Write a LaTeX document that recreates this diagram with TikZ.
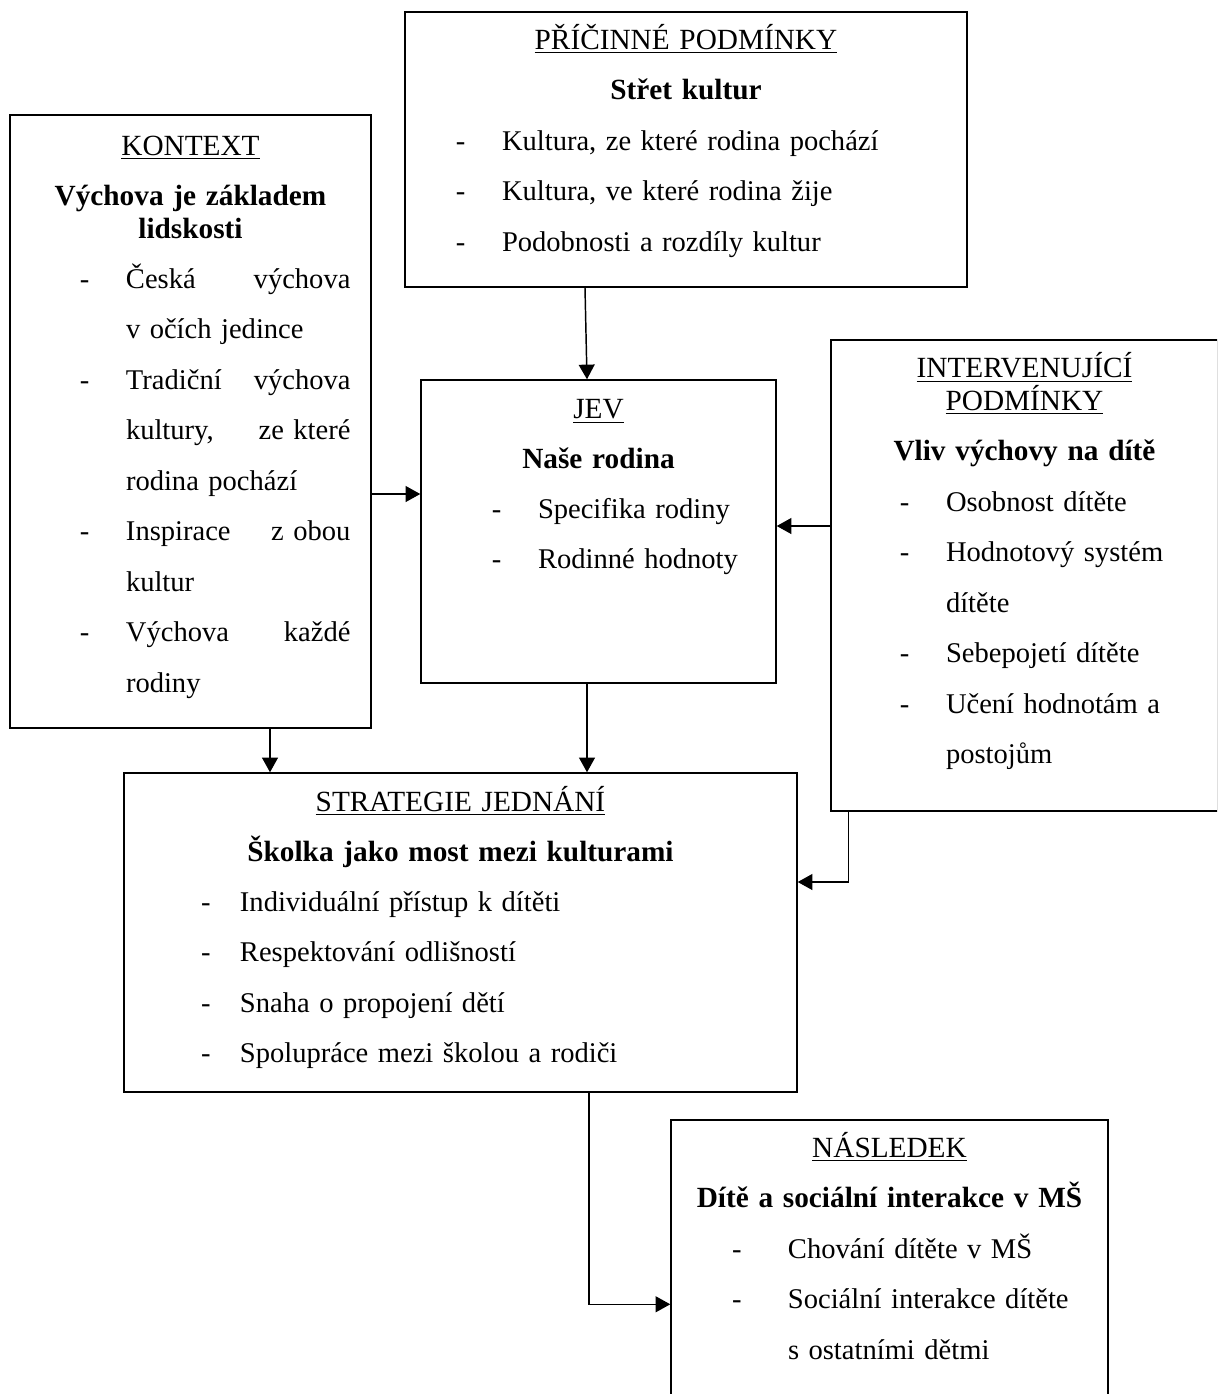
\documentclass[tikz,border=0pt]{standalone}
\usepackage{fontspec}
\setmainfont{Liberation Serif}
\usetikzlibrary{arrows.meta,calc,fit}

\newcommand{\itm}[1][15pt]{\leavevmode\llap{-\hspace{#1}}}
\newcommand{\just}[1]{\leavevmode\hbox to 92pt{#1}}

\begin{document}
\begin{tikzpicture}[x=0.0144cm,y=-0.0144cm,line width=0.6pt,
    frame/.style={draw,inner sep=0pt},
    title/.style={anchor=base,text width=9cm,align=center,inner sep=0pt,
      font=\fontsize{12}{13.5}\selectfont},
    items/.style={anchor=base west,text width=9cm,align=left,inner sep=0pt,
      font=\fontsize{11.7}{20.7}\selectfont},
    arr/.style={-{Triangle[length=6pt,width=6.5pt]}}]
  \useasboundingbox (0,0) rectangle (1217,1394);
  \clip (0,0) rectangle (1217,1394);

  % boxes
  \node[frame,fit={(10,115) (371,728)}] (kontext) {};
  \node[frame,fit={(405,12) (967,287)}] (pric) {};
  \node[frame,fit={(421,380) (776,683)}] (jev) {};
  \node[frame,fit={(831,340) (1218,811)}] (interv) {};
  \node[frame,fit={(124,773) (797,1092)}] (strat) {};
  \node[frame,fit={(671,1120) (1108,1420)}] (nasl) {};

  % texts
  \node[title] (kontext-t) at ($(kontext.north)+(0,41)$)
    {\underline{KONTEXT}\\[7pt]\textbf{Výchova je základem}\\\textbf{lidskosti}};
  \node[items] (kontext-l) at ($(kontext.north west)+(116,174)$)
    {\itm\just{Česká\hfill výchova}\\v očích jedince\\
     \itm\just{Tradiční\hfill výchova}\\\just{kultury,\hfill ze které}\\rodina pochází\\
     \itm\just{Inspirace\hfill z obou}\\kultur\\
     \itm\just{Výchova\hfill každé}\\rodiny};

  \node[title] (pric-t) at ($(pric.north)+(0,38)$)
    {\underline{PŘÍČINNÉ PODMÍNKY}\\[7pt]\textbf{Střet kultur}};
  \node[items] (pric-l) at ($(pric.north west)+(97,139)$)
    {\itm Kultura, ze které rodina pochází\\\itm Kultura, ve které rodina žije\\
     \itm Podobnosti a rozdíly kultur};

  \node[title] (jev-t) at ($(jev.north)+(0,39)$)
    {\underline{JEV}\\[7pt]\textbf{Naše rodina}};
  \node[items] (jev-l) at ($(jev.north west)+(117,139)$)
    {\itm Specifika rodiny\\\itm Rodinné hodnoty};

  \node[title] (interv-t) at ($(interv.north)+(0,38)$)
    {\underline{INTERVENUJÍCÍ}\\\underline{PODMÍNKY}\\[7pt]\textbf{Vliv výchovy na dítě}};
  \node[items] (interv-l) at ($(interv.north west)+(115,172)$)
    {\itm Osobnost dítěte\\\itm Hodnotový systém\\dítěte\\
     \itm Sebepojetí dítěte\\\itm Učení hodnotám a\\postojům};

  \node[title] (strat-t) at ($(strat.north)+(0,39)$)
    {\underline{STRATEGIE JEDNÁNÍ}\\[7pt]\textbf{Školka jako most mezi kulturami}};
  \node[items] (strat-l) at ($(strat.north west)+(116,139)$)
    {\itm[12pt]Individuální přístup k dítěti\\\itm[12pt]Respektování odlišností\\
     \itm[12pt]Snaha o propojení dětí\\\itm[12pt]Spolupráce mezi školou a rodiči};

  \node[title] (nasl-t) at ($(nasl.north)+(0,38)$)
    {\underline{NÁSLEDEK}\\[7pt]\textbf{Dítě a sociální interakce v MŠ}};
  \node[items] (nasl-l) at ($(nasl.north west)+(117,139)$)
    {\itm[19pt]Chování dítěte v MŠ\\\itm[19pt]Sociální interakce dítěte\\
     s ostatními dětmi};

  % arrows
  \coordinate (k2j) at ($(jev.west)+(0,-37.5)$);
  \coordinate (i2j) at ($(jev.east)+(0,-5.5)$);
  \coordinate (k2s) at ($(kontext.south)+(79.5,0)$);
  \coordinate (j2s) at ($(jev.south)+(-11.5,0)$);
  \draw[arr] ($(pric.south)+(-101,0)$) -- ($(jev.north)+(-11.5,0)$);
  \draw[arr] (kontext.east |- k2j) -- (k2j);
  \draw[arr] (interv.west |- i2j) -- (i2j);
  \draw[arr] (k2s) -- (k2s |- strat.north);
  \draw[arr] (j2s) -- (j2s |- strat.north);
  \draw[arr] ($(interv.south west)+(18,0)$) |- ($(strat.east)+(0,-50.5)$);
  \draw[arr] ($(strat.south)+(128.5,0)$) |- ($(nasl.north west)+(0,185)$);
\end{tikzpicture}
\end{document}
